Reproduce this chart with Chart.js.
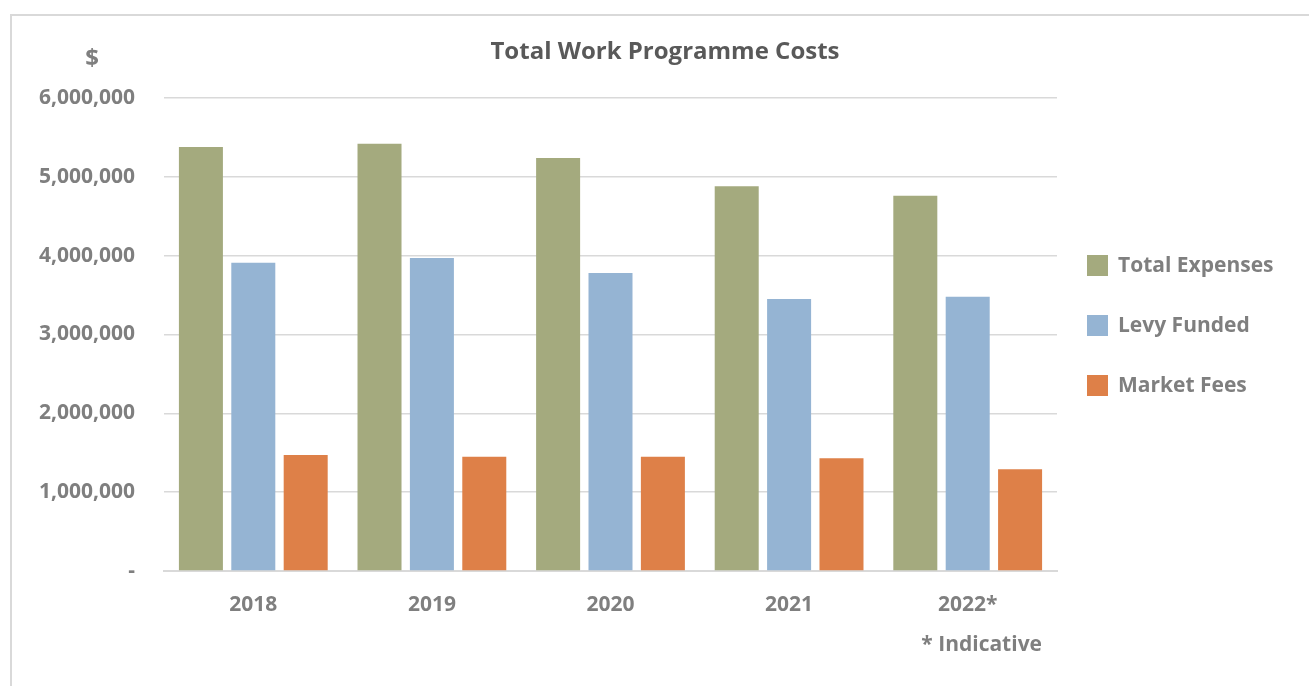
<!DOCTYPE html>
<html>
<head>
<meta charset="utf-8">
<script src="https://cdn.jsdelivr.net/npm/chart.js@4.4.0/dist/chart.umd.min.js"></script>
<style>
  html, body { margin: 0; padding: 0; background: #fff; }
  #wrap { width: 1309px; height: 686px; position: relative; }
</style>
</head>
<body>
<div id="wrap"><canvas id="myChart"></canvas></div>
<script>
const years = ['2018', '2019', '2020', '2021', '2022*'];
const totalExpenses = [5380000, 5420000, 5240000, 4880000, 4760000];
const levyFunded = [3910000, 3970000, 3780000, 3450000, 3480000];
const marketFees = [1470000, 1450000, 1450000, 1430000, 1290000];
const yTicks = [0, 1000000, 2000000, 3000000, 4000000, 5000000, 6000000];

const FONT = "'Open Sans', sans-serif";
const GREY = '#7f7f7f';

// frame, title, "$", footnote and the legend
const extras = {
  id: 'extras',
  beforeDraw(chart) {
    const { ctx } = chart;
    ctx.save();
    ctx.fillStyle = '#fff';
    ctx.fillRect(0, 0, chart.width, chart.height);
    ctx.strokeStyle = '#d9d9d9';
    ctx.lineWidth = 2;
    ctx.strokeRect(11, 15, 1400, 800);
    ctx.restore();
  },
  afterDraw(chart) {
    const { ctx } = chart;
    ctx.save();
    ctx.textBaseline = 'middle';

    ctx.font = 'bold 24px ' + FONT;
    ctx.fillStyle = '#595959';
    ctx.textAlign = 'center';
    ctx.fillText('Total Work Programme Costs', 665, 52);

    ctx.font = 'bold 24px ' + FONT;
    ctx.fillStyle = GREY;
    ctx.fillText('$', 92, 59);

    ctx.font = 'bold 21px ' + FONT;
    ctx.textAlign = 'right';
    ctx.fillText('* Indicative', 1042, 645);

    // legend
    ctx.textAlign = 'left';
    ctx.font = 'bold 21px ' + FONT;
    chart.data.datasets.forEach((ds, i) => {
      const cy = 265 + i * 60;
      ctx.fillStyle = ds.backgroundColor;
      ctx.fillRect(1087, cy - 10, 21, 21);
      ctx.fillStyle = GREY;
      ctx.fillText(ds.label, 1118, cy + 1);
    });
    ctx.restore();
  },
};

const config = {
  type: 'bar',
  data: {
    labels: years,
    datasets: [
      { label: 'Total Expenses', data: totalExpenses, backgroundColor: '#a4aa7e' },
      { label: 'Levy Funded', data: levyFunded, backgroundColor: '#95b4d3' },
      { label: 'Market Fees', data: marketFees, backgroundColor: '#de8048' },
    ],
  },
  options: {
    responsive: true,
    maintainAspectRatio: false,
    animation: false,
    datasets: {
      bar: {
        categoryPercentage: 0.88,
        barPercentage: 0.84,
      },
    },
    layout: {
      padding: { left: 0, right: 252, top: 98, bottom: 0 },
    },
    plugins: {
      legend: { display: false },
      title: { display: false },
      tooltip: { enabled: false },
    },
    scales: {
      x: {
        grid: { display: false, drawTicks: false },
        border: { color: '#d9d9d9', width: 2 },
        ticks: {
          color: GREY,
          font: { family: FONT, size: 21, weight: 'bold' },
          padding: 21,
        },
        afterFit(scale) { scale.height = 115; },
      },
      y: {
        min: 0,
        max: 6000000,
        afterBuildTicks(scale) {
          scale.ticks = yTicks.map((v) => ({ value: v }));
        },
        grid: { color: '#d9d9d9', lineWidth: 1.5, drawTicks: false },
        border: { display: false },
        ticks: {
          color: GREY,
          font: { family: FONT, size: 21, weight: 'bold' },
          padding: 29,
          callback: (v) => (v === 0 ? '-' : v.toLocaleString('en-US')),
        },
        afterFit(scale) { scale.width = 164; },
      },
    },
  },
  plugins: [extras],
};

const myChart = new Chart(document.getElementById('myChart'), config);
</script>
</body>
</html>
